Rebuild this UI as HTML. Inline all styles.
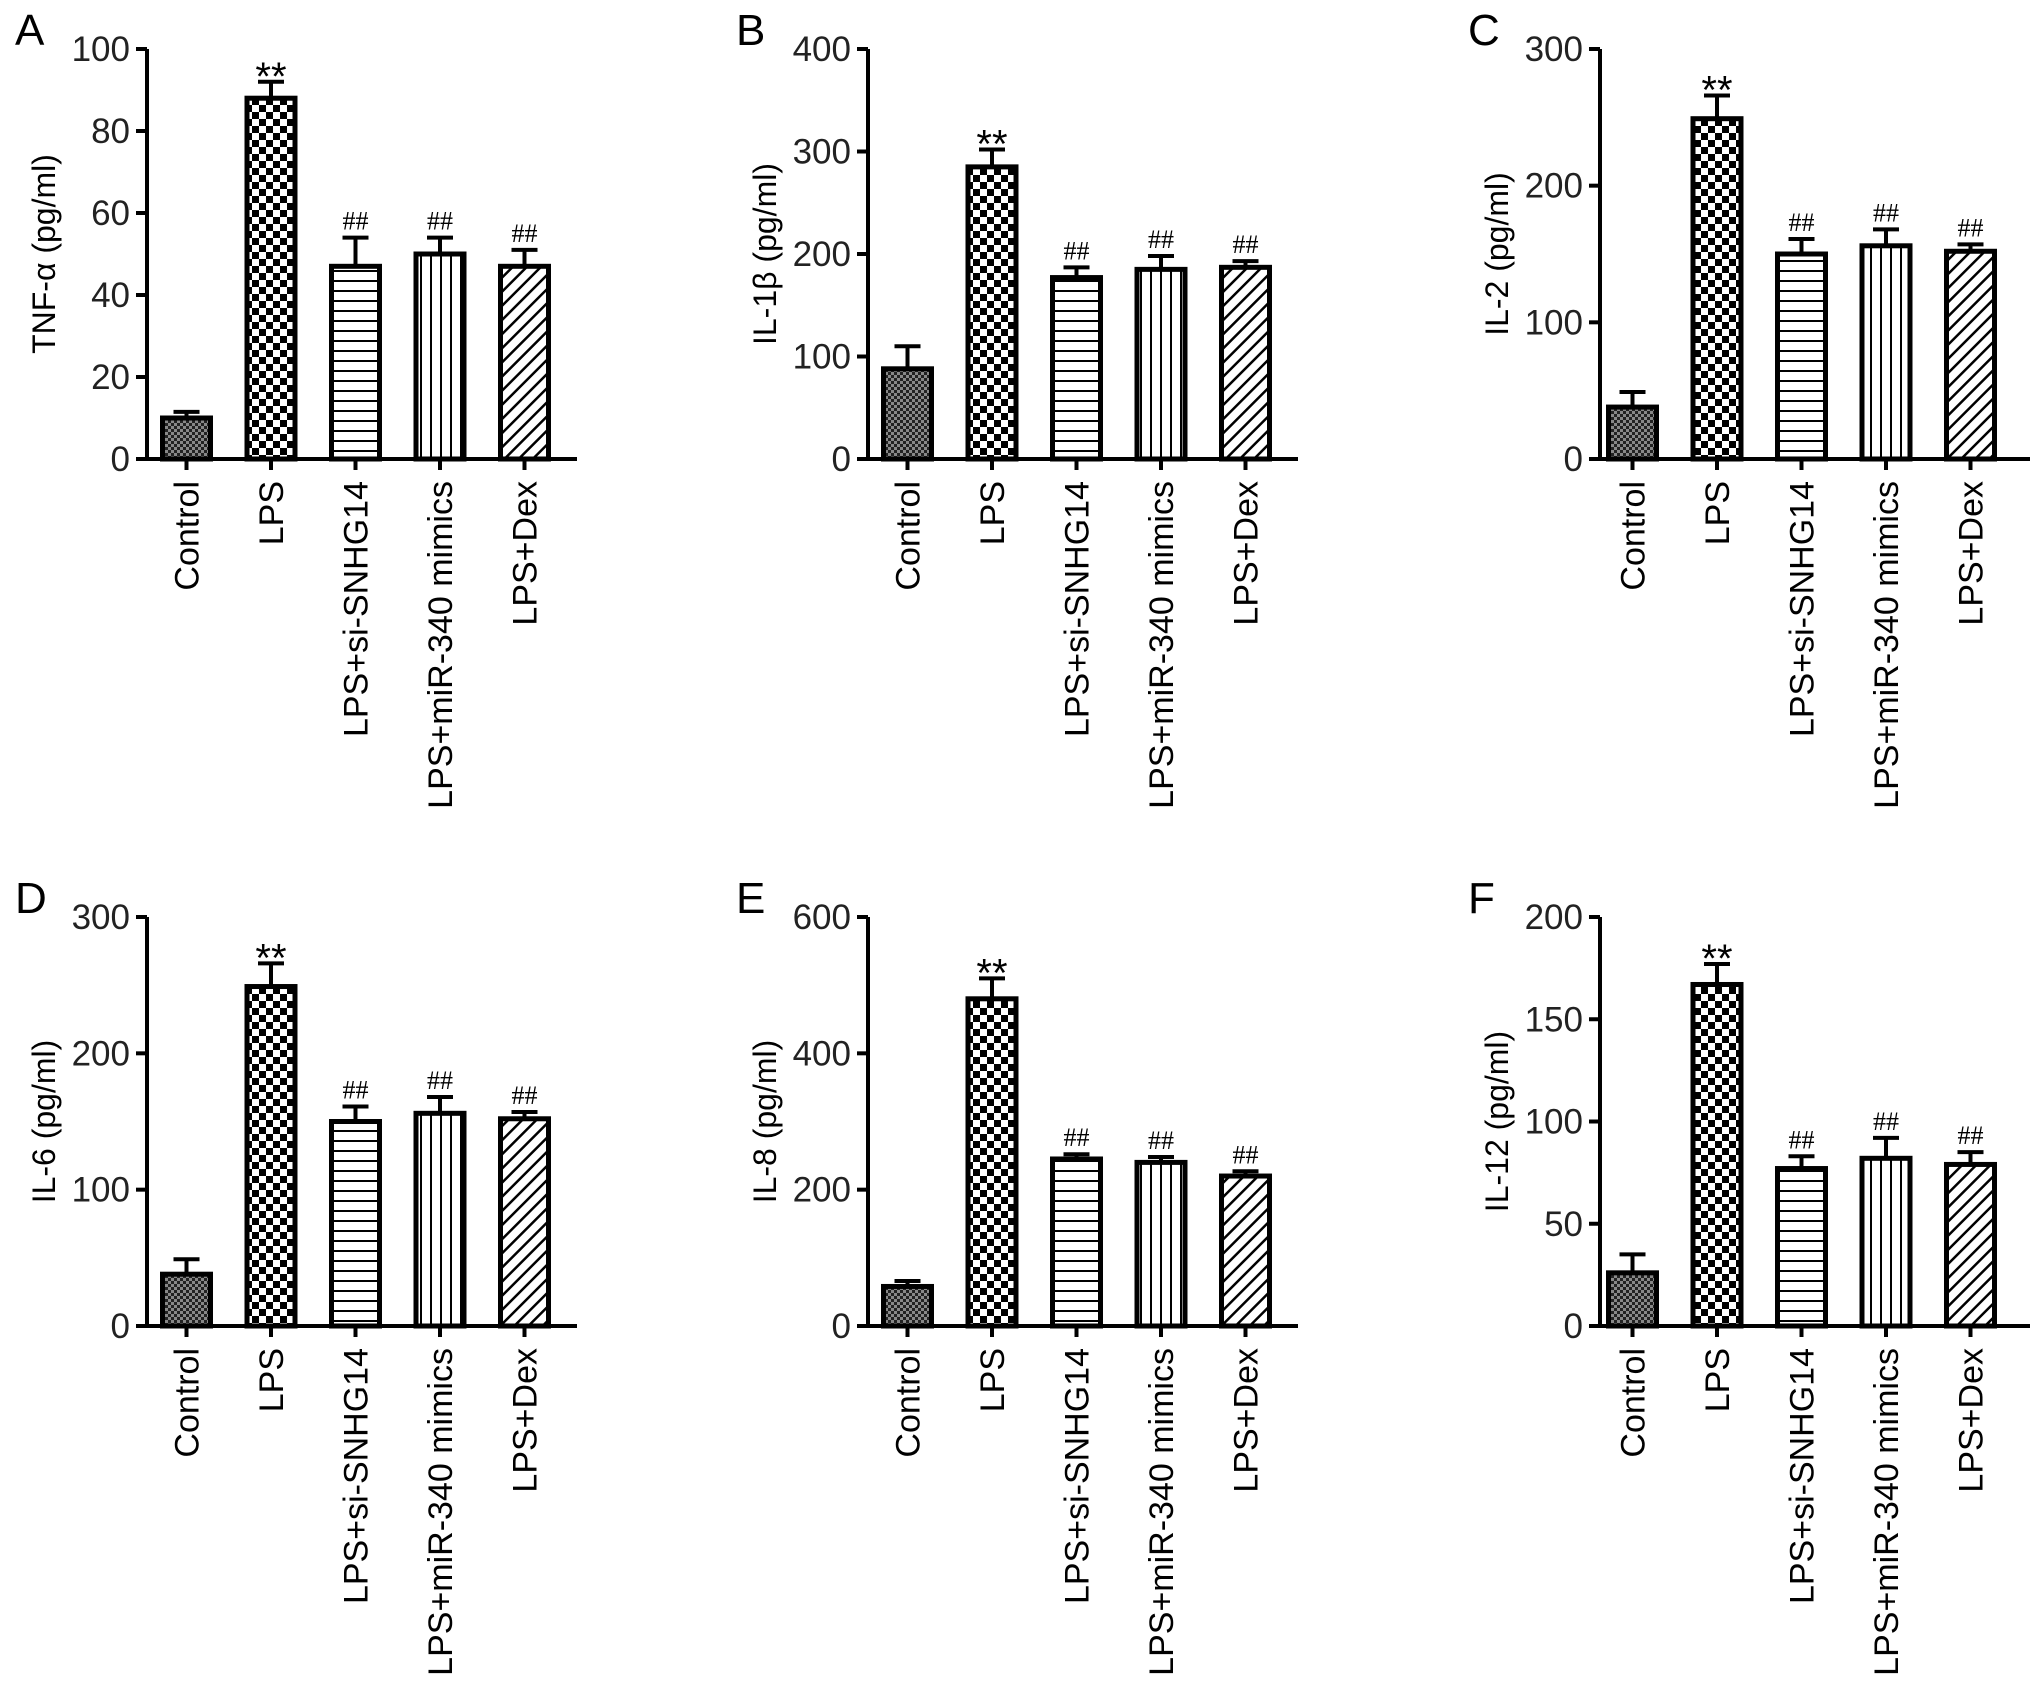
<!DOCTYPE html>
<html><head><meta charset="utf-8"><style>
html,body{margin:0;padding:0;background:#fff;}
svg{display:block;font-family:"Liberation Sans",Arial,sans-serif;}
</style></head><body>
<svg id="fig" width="2032" height="1686" viewBox="0 0 2032 1686" xmlns="http://www.w3.org/2000/svg">
<defs>
<pattern id="pCtrl" width="6" height="6" patternUnits="userSpaceOnUse"><rect width="6" height="6" fill="#888"/><rect width="3" height="3" fill="#222"/><rect x="3" y="3" width="3" height="3" fill="#222"/></pattern>
<pattern id="pLps" width="14" height="14" patternUnits="userSpaceOnUse"><rect width="14" height="14" fill="#fff"/><rect width="7" height="7" fill="#000"/><rect x="7" y="7" width="7" height="7" fill="#000"/></pattern>
<pattern id="pHor" width="10" height="10" patternUnits="userSpaceOnUse"><rect width="10" height="10" fill="#fff"/><rect y="0" width="10" height="2" fill="#000"/></pattern>
<pattern id="pVer" width="10" height="10" patternUnits="userSpaceOnUse"><rect width="10" height="10" fill="#fff"/><rect x="0" width="2" height="10" fill="#000"/></pattern>
<pattern id="pDiag" width="10" height="10" patternUnits="userSpaceOnUse" patternTransform="rotate(45)"><rect width="10" height="10" fill="#fff"/><rect width="2.5" height="10" fill="#000"/></pattern>
</defs>
</svg>
<script>
const categories = ["Control","LPS","LPS+si-SNHG14","LPS+miR-340 mimics","LPS+Dex"];
const panelLetters = ["A","B","C","D","E","F"];
const yTitles = ["TNF-α (pg/ml)","IL-1β (pg/ml)","IL-2 (pg/ml)","IL-6 (pg/ml)","IL-8 (pg/ml)","IL-12 (pg/ml)"];
const yMax = [100,400,300,300,600,200];
const yStep = [20,100,100,100,200,50];
const valsA = [10,88,47,50,47];
const errA = [1.5,4,7,4,4];
const valsB = [88,285,177,185,187];
const errB = [22,17,10,13,6];
const valsC = [38,249,150,156,152];
const errC = [11,17,11,12,5];
const valsD = [38,249,150,156,152];
const errD = [11,17,11,12,5];
const valsE = [58,480,245,240,220];
const errE = [8,30,7,8,7];
const valsF = [26,167,77,82,79];
const errF = [9,10,6,10,6];
const sigMarks = ["","**","##","##","##"];

const allVals=[valsA,valsB,valsC,valsD,valsE,valsF];
const allErr=[errA,errB,errC,errD,errE,errF];
const fills=["url(#pCtrl)","url(#pLps)","url(#pHor)","url(#pVer)","url(#pDiag)"];
const svg=document.getElementById('fig');
const NS="http://www.w3.org/2000/svg";
function mk(tag,attrs,parent){const e=document.createElementNS(NS,tag);for(const k in attrs)e.setAttribute(k,attrs[k]);parent.appendChild(e);return e;}
const axX=[147,868,1600];
const barOff=[13,13,6];
const rowTop=[49,917], rowZero=[459,1326];
for(let p=0;p<6;p++){
  const r=Math.floor(p/3),c=p%3;
  const ax=axX[c], top=rowTop[r], zero=rowZero[r];
  const g=mk('g',{},svg);
  
  
  const y=v=>zero-(v/yMax[p])*(zero-top);
  const xC=i=>ax+barOff[c]+26.5+i*84.5;
  const lt=mk('text',{x:ax-132,y:top-4,'font-size':44},g);
  lt.textContent=panelLetters[p];
  
  
  const yt=mk('text',{transform:`translate(${ax-92},${(top+zero)/2}) rotate(-90)`,'text-anchor':'middle','font-size':32},g);
  yt.textContent=yTitles[p];
  
  
  for(let i=0;i<5;i++){
    const v=allVals[p][i],e=allErr[p][i],cx=xC(i);
    const eb=mk('path',{d:`M${cx} ${y(v)} V${y(v+e)} M${cx-13} ${y(v+e)} H${cx+13}`,stroke:'#000','stroke-width':4,fill:'none'},g);
    
    
    const b=mk('rect',{x:cx-24,y:y(v),width:48,height:zero-y(v),fill:fills[i],stroke:'#000','stroke-width':5},g);
    
    
    if(sigMarks[i]){
      const big=sigMarks[i]=="**";
      const s=mk('text',{x:cx,y:big?y(v+e)+8:y(v+e)-8,'text-anchor':'middle','font-size':big?40:26,'font-family':big?'"Liberation Sans",sans-serif':'"Liberation Serif",serif'},g);
      s.textContent=sigMarks[i];
      
      
    }
    const tk=mk('line',{x1:cx,x2:cx,y1:zero,y2:zero+11,stroke:'#000','stroke-width':4},g);
    
    
    const cl=mk('text',{transform:`translate(${cx+12},${zero+22}) rotate(-90)`,'text-anchor':'end','font-size':34},g);
    cl.textContent=categories[i];
    
    
  }
  const axl=mk('path',{d:`M${ax} ${top} V${zero} H${ax+430}`,stroke:'#000','stroke-width':4,fill:'none'},g);
  
  
  for(let t=0;t<=yMax[p];t+=yStep[p]){
    const tl=mk('line',{x1:ax-11,x2:ax,y1:y(t),y2:y(t),stroke:'#000','stroke-width':4},g);
    
    
    const tt=mk('text',{x:ax-17,y:y(t)+12,'text-anchor':'end','font-size':35,fill:'#222'},g);
    tt.textContent=t;
    
    
  }
}
</script>
</body></html>
